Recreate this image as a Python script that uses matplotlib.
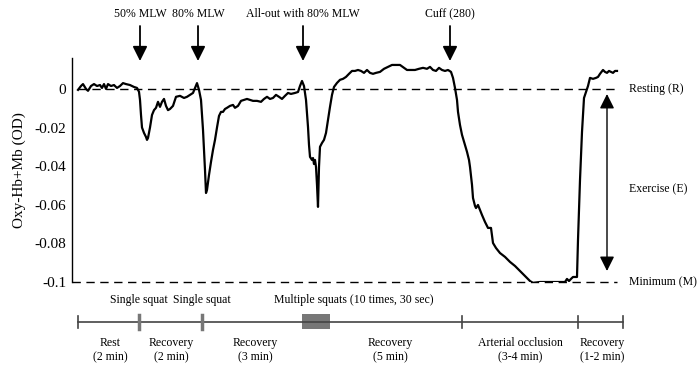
import matplotlib
matplotlib.use('Agg')
from matplotlib import pyplot as plt

# time axis in arbitrary units (same units as the protocol timeline below)
t = [78, 81, 83, 86, 88, 91, 94, 97, 100, 102, 104, 106, 108, 111, 114, 117, 120, 123, 126, 130,
     134, 137, 139, 140, 141, 142, 144, 146, 147, 148, 150, 152, 154, 156, 158, 160, 162, 164, 166, 168,
     170, 173, 176, 180, 184, 187, 190, 193, 195, 197, 199, 201, 203, 205, 206, 207, 209, 211, 213, 215,
     217, 219, 221, 223, 225, 227, 230, 233, 235, 238, 241, 244, 247, 250, 253, 257, 261, 264, 267, 270,
     273, 276, 279, 282, 285, 288, 291, 295, 298, 300, 302, 304, 306, 308, 309, 310, 312, 313, 314, 315,
     316, 317, 318, 319, 320, 322, 324, 326, 328, 330, 332, 334, 337, 340, 343, 346, 349, 352, 355, 358,
     361, 364, 367, 370, 373, 376, 380, 384, 388, 392, 396, 400, 404, 407, 411, 415, 419, 423, 427, 430,
     433, 436, 439, 442, 445, 448, 451, 453, 455, 457, 458, 460, 462, 465, 467, 469, 470, 472, 473, 475,
     476, 478, 480, 482, 485, 488, 491, 493, 496, 500, 505, 510, 515, 520, 525, 530, 533, 540, 550, 560,
     565, 567, 569, 571, 573, 577, 578, 580, 582, 584, 586, 588, 590, 593, 596, 598, 600, 603, 605, 607,
     609, 611, 613, 615, 617]
oxy = [-0.0005, 0.0015, 0.0025, 0.0, -0.001, 0.0015, 0.0025, 0.0015, 0.002, 0.0005, 0.0025, 0.0, 0.0025, 0.0015, 0.002, 0.0005, 0.0015, 0.003, 0.0025, 0.002,
       0.001, 0.0005, -0.0015, -0.0057, -0.0135, -0.02, -0.0228, -0.0249, -0.0264, -0.0254, -0.02, -0.0135, -0.011, -0.0098, -0.0067, -0.0093, -0.0067, -0.0052, -0.0088, -0.011,
       -0.0104, -0.0088, -0.0041, -0.0036, -0.0047, -0.0041, -0.0031, -0.0021, 0.0005, 0.003, -0.0005, -0.0057, -0.0212, -0.042, -0.0539, -0.0523, -0.0446, -0.0378, -0.0316, -0.0264,
       -0.02, -0.014, -0.0119, -0.0119, -0.0104, -0.0098, -0.0088, -0.0083, -0.0098, -0.0088, -0.0062, -0.0057, -0.0052, -0.0057, -0.0062, -0.0062, -0.0067, -0.0052, -0.0041, -0.0052,
       -0.0047, -0.0031, -0.0041, -0.0052, -0.0036, -0.0021, -0.0026, -0.0021, -0.0016, 0.0015, 0.0041, 0.0015, -0.0057, -0.0197, -0.029, -0.0352, -0.0368, -0.0358, -0.0389, -0.0368,
       -0.0404, -0.0497, -0.0611, -0.0404, -0.03, -0.028, -0.0264, -0.0228, -0.0161, -0.0093, -0.0031, 0.001, 0.0031, 0.0047, 0.0052, 0.0062, 0.0078, 0.0093, 0.0093, 0.0098,
       0.0093, 0.0083, 0.0098, 0.0083, 0.0078, 0.0083, 0.0088, 0.0104, 0.0114, 0.0124, 0.0124, 0.0124, 0.0109, 0.0098, 0.0098, 0.0098, 0.0104, 0.0109, 0.0104, 0.0114,
       0.0098, 0.0093, 0.0109, 0.0098, 0.0093, 0.0098, 0.0088, 0.0057, 0.0005, -0.0057, -0.0119, -0.0187, -0.0238, -0.029, -0.0326, -0.0368, -0.0404, -0.0497, -0.0565, -0.0606,
       -0.0617, -0.0601, -0.0627, -0.0653, -0.0689, -0.072, -0.072, -0.0798, -0.0824, -0.085, -0.087, -0.0896, -0.0917, -0.0943, -0.0969, -0.0995, -0.1005, -0.1, -0.1, -0.1,
       -0.1, -0.0984, -0.0995, -0.0984, -0.0974, -0.0974, -0.0782, -0.0472, -0.0223, -0.0047, -0.0016, 0.0015, 0.0057, 0.0052, 0.0057, 0.0062, 0.0078, 0.0098, 0.0088, 0.0083,
       0.0093, 0.0088, 0.0083, 0.0093, 0.0093]

yticks = [0, -0.02, -0.04, -0.06, -0.08, -0.1]
ytick_labels = ['0', '-0.02', '-0.04', '-0.06', '-0.08', '-0.1']

# events marked with arrows on top
event_t = [140, 198, 303, 450]
event_labels = ['50% MLW', '80% MLW', 'All-out with 80% MLW', 'Cuff (280)']

# protocol timeline
phase_edges = [78, 462, 578, 623]
squat_t = [139, 202]
multi_squat = (302, 330)
phase_labels = ['Rest\n(2 min)', 'Recovery\n(2 min)', 'Recovery\n(3 min)', 'Recovery\n(5 min)',
                'Arterial occlusion\n(3-4 min)', 'Recovery\n(1-2 min)']
phase_label_t = [110, 171, 255, 390, 520, 602]

levels = [0, -0.052, -0.1]
level_labels = ['Resting (R)', 'Exercise (E)', 'Minimum (M)']

plt.rcParams['font.family'] = ['Liberation Serif', 'DejaVu Serif']

W, H = 700, 373
fig = plt.figure(figsize=(W / 100, H / 100), dpi=100)
ax = fig.add_axes([72 / W, 1 - 282 / H, (620 - 72) / W, (282 - 58) / H])
ax.plot(t, oxy, color='black', lw=1.6)
ax.plot([78, 617], [0, 0], color='black', lw=1, dashes=(6, 4))
ax.plot([72, 617], [-0.1, -0.1], color='black', lw=1, dashes=(6, 4), clip_on=False)
ax.set_xlim(72, 620)
ax.set_ylim(-0.1, 0.016)
ax.set_yticks(yticks)
ax.set_yticklabels(ytick_labels, fontsize=11)
ax.tick_params(axis='y', length=0, pad=4)
ax.set_xticks([])
for s in ['top', 'right', 'bottom']:
    ax.spines[s].set_visible(False)
ax.spines['left'].set_linewidth(1)
ax.set_ylabel('Oxy-Hb+Mb (OD)', fontsize=11, labelpad=6)

# overlay in pixel coordinates for annotations
ov = fig.add_axes([0, 0, 1, 1])
ov.set_xlim(0, W)
ov.set_ylim(H, 0)
ov.axis('off')

for x, lab in zip(event_t, event_labels):
    ov.text(x, 14, lab, ha='center', va='center', fontsize=8.5)
    ov.annotate('', xy=(x, 61), xytext=(x, 26),
                arrowprops=dict(arrowstyle='-|>', color='black', lw=1.3,
                                mutation_scale=22, shrinkA=0, shrinkB=0))

# right side labels and double arrow
def ypix(v):
    return 89 + (0 - v) * 1930

for v, lab in zip(levels, level_labels):
    ov.text(629, ypix(v), lab, ha='left', va='center', fontsize=8.5)
ov.annotate('', xy=(607, 94), xytext=(607, 271),
            arrowprops=dict(arrowstyle='<|-|>', color='black', lw=1.0,
                            mutation_scale=22, shrinkA=0, shrinkB=0))

# timeline
ov.plot([phase_edges[0], phase_edges[-1]], [322, 322], color='#444444', lw=1.2)
for x in phase_edges:
    ov.plot([x, x], [316, 328], color='#444444', lw=1.2)
for x in squat_t:
    ov.plot([x, x], [315, 329], color='#777777', lw=2.5)
ov.fill_between(list(multi_squat), 314, 329, color='#777777', lw=0)
ov.text(139, 300, 'Single squat', ha='center', va='center', fontsize=8.5)
ov.text(202, 300, 'Single squat', ha='center', va='center', fontsize=8.5)
ov.text(354, 300, 'Multiple squats (10 times, 30 sec)', ha='center', va='center', fontsize=8.5)
for x, lab in zip(phase_label_t, phase_labels):
    ov.text(x, 350, lab, ha='center', va='center', fontsize=8.5, linespacing=1.3)

fig.savefig('out.png', dpi=100)
